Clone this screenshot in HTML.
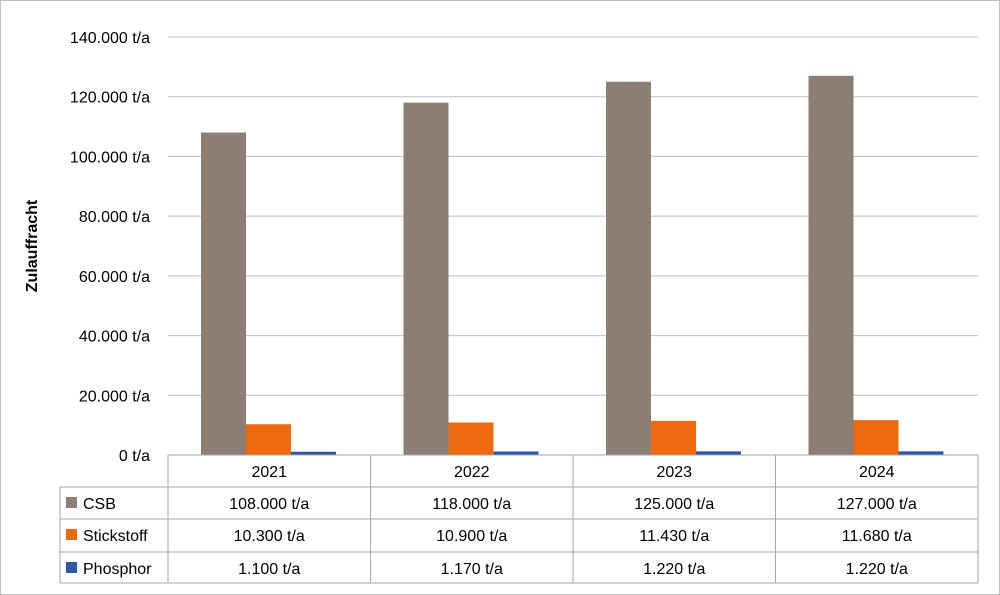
<!DOCTYPE html>
<html><head><meta charset="utf-8"><style>
body{margin:0;background:#fff}
svg{display:block;font-family:"Liberation Sans",sans-serif}
</style></head><body>
<svg id="c" width="1000" height="595">
<rect x="0.5" y="0.5" width="999" height="594" fill="#fff" stroke="#bfbfbf"/>
<g id="grid"></g><g id="bars"></g><g id="table"></g>
<text x="37" y="246" transform="rotate(-90 37 246)" text-anchor="middle" font-size="16" font-weight="bold">Zulauffracht</text>
</svg>
<script>
const categories=["2021","2022","2023","2024"];
const seriesNames=["CSB","Stickstoff","Phosphor"];
const csb=[108000,118000,125000,127000];
const stick=[10300,10900,11430,11680];
const phos=[1100,1170,1220,1220];
const ticks=[0,20000,40000,60000,80000,100000,120000,140000];
const colors=["#8c7e72","#ee6a10","#2f56a6"];
const series=[csb,stick,phos];
const NS="http://www.w3.org/2000/svg";
const X0=168,X1=978,Y0=455,Y1=37,YMAX=140000;
const cw=(X1-X0)/categories.length;
const y=v=>Y0-(v/YMAX)*(Y0-Y1);
const fmt=v=>v.toLocaleString('de-DE')+" t/a";
function el(p,t,a,txt){const e=document.createElementNS(NS,t);for(const k in a)e.setAttribute(k,a[k]);if(txt!==undefined)e.textContent=txt;p.appendChild(e);return e;}
const g=document.getElementById('grid');
ticks.forEach(t=>{
 const l=el(g,'line',{x1:X0,x2:X1,y1:y(t),y2:y(t),stroke:'#bfbfbf'});
 
 
 const tx=el(g,'text',{x:150,y:y(t)+6,'text-anchor':'end','font-size':16},fmt(t));
 
 
});
const b=document.getElementById('bars');
const bw=45,off=33;
series.forEach((s,si)=>s.forEach((v,ci)=>{
 const r=el(b,'rect',{x:X0+ci*cw+off+si*bw,y:y(v),width:bw,height:Y0-y(v),fill:colors[si]});
 
 
}));
const tb=document.getElementById('table');
const rows=[455,487,519,552,583];
const st='#a6a6a6';
// horizontal lines
el(tb,'line',{x1:X0,x2:X1,y1:rows[0],y2:rows[0],stroke:st});
for(let i=1;i<rows.length;i++) el(tb,'line',{x1:60,x2:X1,y1:rows[i],y2:rows[i],stroke:st});
el(tb,'line',{x1:60,x2:60,y1:rows[1],y2:rows[4],stroke:st});
for(let i=0;i<=categories.length;i++) el(tb,'line',{x1:X0+i*cw,x2:X0+i*cw,y1:rows[0],y2:rows[4],stroke:st});
categories.forEach((c,ci)=>{
 const t=el(tb,'text',{x:X0+ci*cw+cw/2,y:rows[0]+22,'text-anchor':'middle','font-size':16},c);
 
 
});
series.forEach((s,si)=>{
 const ry=rows[si+1];
 const k=el(tb,'rect',{x:66,y:ry+10,width:11,height:11,fill:colors[si]});
 
 
 const n=el(tb,'text',{x:83,y:ry+22,'font-size':16},seriesNames[si]);
 
 
 s.forEach((v,ci)=>{
  const t=el(tb,'text',{x:X0+ci*cw+cw/2,y:ry+22,'text-anchor':'middle','font-size':16},fmt(v));
  
  
 });
});
</script>
</body></html>
